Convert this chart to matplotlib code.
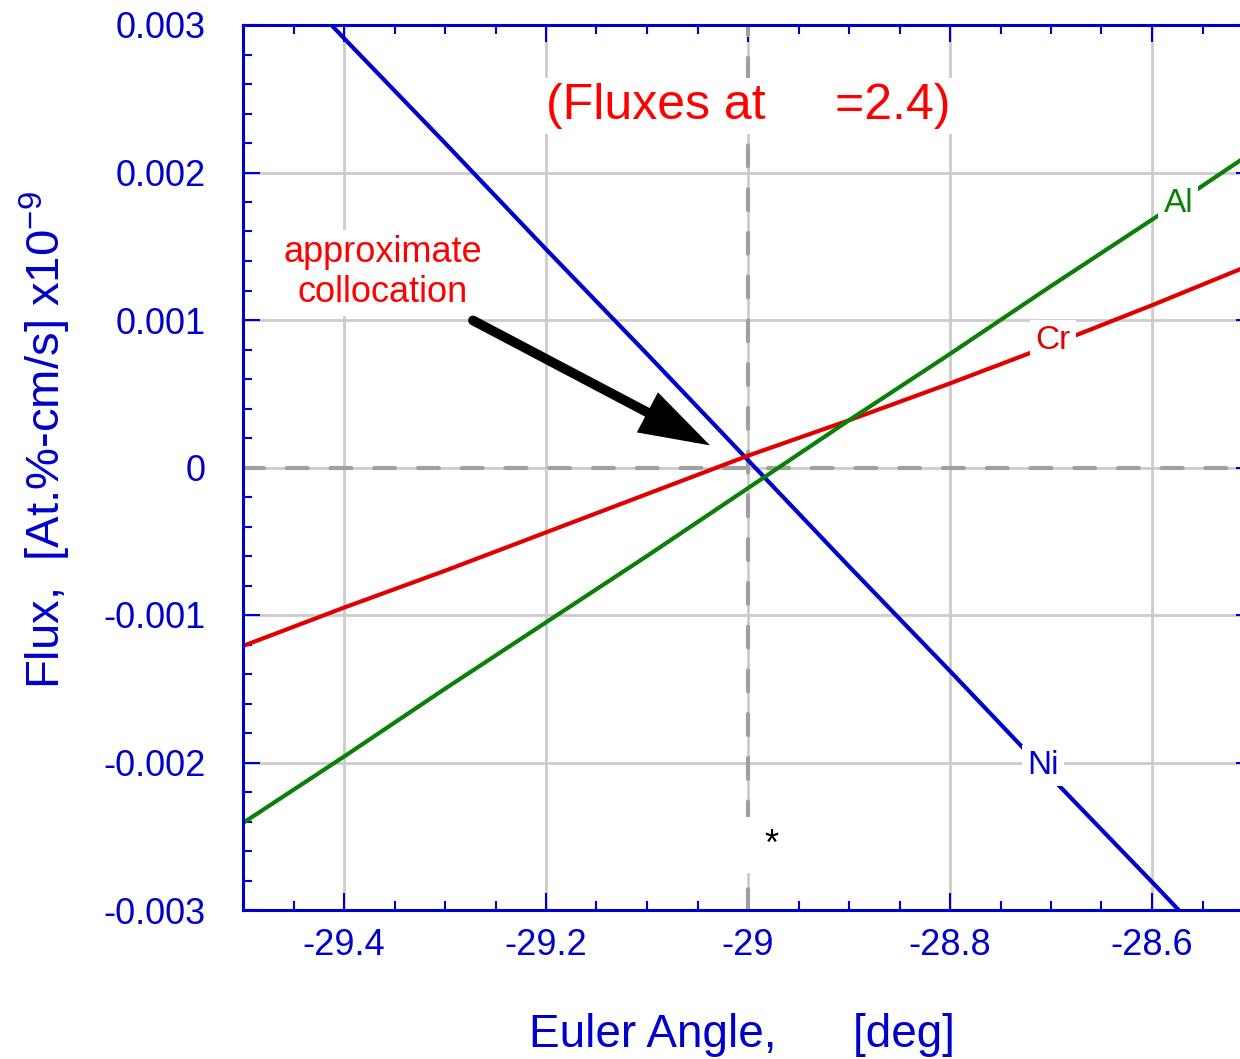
import matplotlib
matplotlib.use('Agg')
import matplotlib.pyplot as plt
from matplotlib.ticker import FixedLocator, MultipleLocator

plt.rcParams['font.family'] = ['Liberation Sans', 'DejaVu Sans']
plt.rcParams['mathtext.default'] = 'regular'

# values
angle = [-29.5, -29.4, -29.3, -29.2, -29.1, -29.0, -28.9, -28.8, -28.7, -28.6, -28.5]
flux_ni = [0.00363, 0.00291, 0.00220, 0.00148, 0.00077, 0.00005,
           -0.00067, -0.00138, -0.00210, -0.00281, -0.00353]
flux_cr = [-0.00121, -0.00095, -0.00070, -0.00044, -0.00018, 0.00008,
           0.00032, 0.00057, 0.00083, 0.00110, 0.00138]
flux_al = [-0.00241, -0.00196, -0.00150, -0.00105, -0.00060, -0.00014,
           0.00032, 0.00077, 0.00123, 0.00168, 0.00214]

xticks = [-29.4, -29.2, -29.0, -28.8, -28.6]
xticklabels = ['-29.4', '-29.2', '-29', '-28.8', '-28.6']
yticks = [0.003, 0.002, 0.001, 0.0, -0.001, -0.002, -0.003]
yticklabels = ['0.003', '0.002', '0.001', '0', '-0.001', '-0.002', '-0.003']

ref_angle = -29.0
ref_flux = 0.0

# label anchors (x, y) for the curve names and notes
lab_al = (-28.574, 0.00179)
lab_cr = (-28.698, 0.00086)
lab_ni = (-28.708, -0.00202)
arrow_tail = (-29.2723, 0.000997)
arrow_tip = (-29.0376, 0.000150)
note_pos = (-29.362, 0.00132)
title_pos = (-29.0, 0.00245)
star_pos = (-28.993, -0.00256)

BLUE = '#0000cc'
RED = '#e00000'
GREEN = '#0a800a'

fig = plt.figure(figsize=(12.4, 10.59), dpi=100)
ax = fig.add_axes([243 / 1240, 1 - 910 / 1059, 1010 / 1240, 885 / 1059])

ax.set_xlim(-29.5, -28.5)
ax.set_ylim(-0.003, 0.003)

ax.grid(True, color='#cccccc', lw=2, zorder=0.5)
ax.set_axisbelow(True)

dash = dict(color='#a0a0a0', lw=3, dashes=(5, 5.5), dash_capstyle='round', zorder=1)
ax.axhline(ref_flux, **dash)
ax.axvline(ref_angle, **dash)

ax.plot(angle, flux_ni, color=BLUE, lw=3, zorder=2)
ax.plot(angle, flux_cr, color=RED, lw=3, zorder=2)
ax.plot(angle, flux_al, color=GREEN, lw=3, zorder=2)

box = dict(boxstyle='square,pad=0.15', fc='white', ec='none')
ax.text(*lab_al, 'Al', color=GREEN, fontsize=24, ha='center', va='center', bbox=box, zorder=3)
ax.text(*lab_cr, 'Cr', color=RED, fontsize=24, ha='center', va='center', bbox=box, zorder=3)
ax.text(*lab_ni, 'Ni', color=BLUE, fontsize=24, ha='center', va='center', bbox=box, zorder=3)

ax.text(*title_pos, '(Fluxes at     =2.4)', color='#ff0000', fontsize=36,
        ha='center', va='center', bbox=dict(boxstyle='square,pad=0.1', fc='white', ec='none'),
        zorder=3)
ax.text(*note_pos, 'approximate\ncollocation', color='#ff0000', fontsize=26,
        ha='center', va='center', linespacing=1.2,
        bbox=dict(boxstyle='square,pad=0.15', fc='white', ec='none'), zorder=3)
ax.text(*star_pos, ' *', color='black', fontsize=26, ha='left', va='center',
        bbox=dict(boxstyle='square,pad=0.3', fc='white', ec='none'), zorder=3)

ax.annotate('', xy=arrow_tip, xytext=arrow_tail,
            arrowprops=dict(arrowstyle='-|>,head_length=1.0,head_width=0.32',
                            lw=7, color='black', shrinkA=0, shrinkB=0,
                            mutation_scale=36, capstyle='round', joinstyle='miter'),
            zorder=4)

# axes styling
for s in ax.spines.values():
    s.set_color(BLUE)
    s.set_linewidth(2.2)
    s.set_zorder(5)

ax.xaxis.set_major_locator(FixedLocator(xticks))
ax.set_xticklabels(xticklabels)
ax.xaxis.set_minor_locator(MultipleLocator(0.05))
ax.yaxis.set_major_locator(FixedLocator(yticks))
ax.set_yticklabels(yticklabels)
ax.yaxis.set_minor_locator(MultipleLocator(0.0002))

ax.tick_params(which='both', direction='in', top=True, right=True, color=BLUE,
               width=1.5, labelcolor=BLUE, labelsize=26)
ax.tick_params(which='major', length=12)
ax.tick_params(which='minor', length=6.5)
ax.tick_params(axis='y', pad=27)
ax.tick_params(axis='x', pad=13)

fig.text(45 / 1240, 1 - 440 / 1059, 'Flux,  [At.%-cm/s] x10$^{-9}$', color=BLUE,
         fontsize=34, rotation=90, ha='center', va='center')
fig.text(742 / 1240, 1 - 1035 / 1059, 'Euler Angle,      [deg]', color=BLUE,
         fontsize=33, ha='center', va='center')

fig.savefig('out.png', dpi=100)
